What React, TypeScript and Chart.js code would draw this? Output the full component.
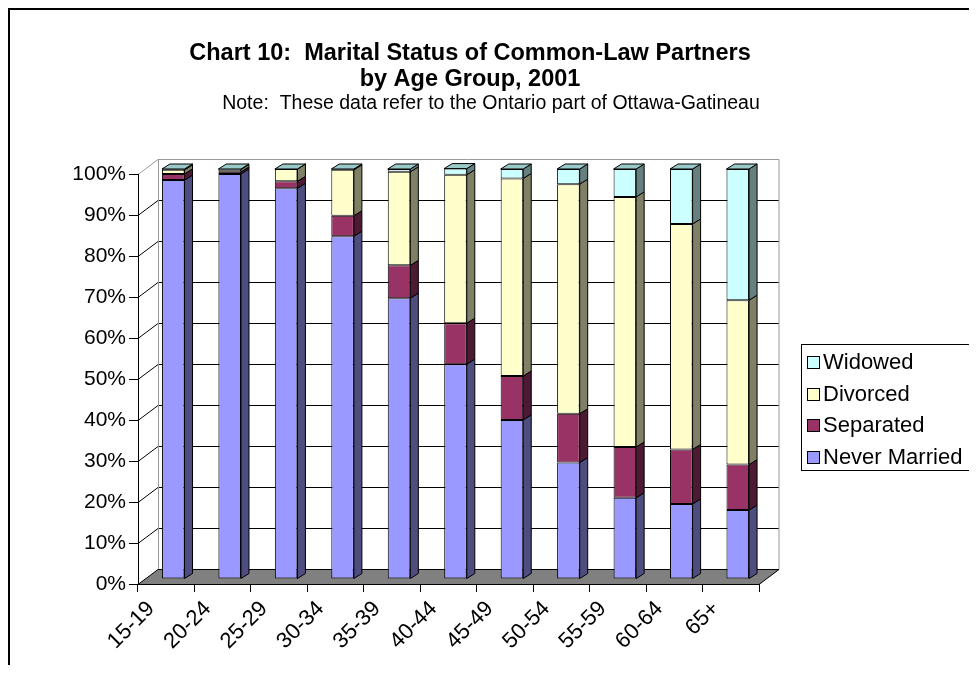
import React, { useEffect, useRef } from 'react';
import { Chart, registerables } from 'chart.js';

Chart.register(...registerables);

// ---------- data ----------
const categories = ['15-19', '20-24', '25-29', '30-34', '35-39', '40-44', '45-49', '50-54', '55-59', '60-64', '65+'];
const neverMarried = [97.3, 98.8, 95.3, 83.6, 68.5, 52.4, 38.8, 28.4, 19.8, 18.3, 16.8];
const separated = [1.5, 0.5, 1.7, 5.0, 8.0, 10.0, 10.7, 11.9, 12.4, 13.3, 11.1];
const divorced = [1.0, 0.6, 3.0, 11.2, 22.8, 36.2, 48.2, 56.0, 61.0, 55.0, 40.1];
const widowed = [0.2, 0.1, 0.0, 0.2, 0.7, 1.5, 2.3, 3.7, 6.8, 13.4, 32.0];
const seriesNames = ['Never Married', 'Separated', 'Divorced', 'Widowed'];
const yTickStep = 10;
const yMax = 100;
const titleLines = ['Chart 10:  Marital Status of Common-Law Partners', 'by Age Group, 2001'];
const noteText = 'Note:  These data refer to the Ontario part of Ottawa-Gatineau';

// ---------- styles ----------
const FONT = '"Liberation Sans", Arial, Helvetica, sans-serif';
const frontColors = ['#9999FF', '#993366', '#FFFFCC', '#CCFFFF'];
const sideColors = ['#4D4D80', '#4D1A33', '#808066', '#668080'];
const topColor = '#99C9C9';
const WALL_DX = 20;
const WALL_DY = -15;
const BAR_SHIFT_X = 7;
const BAR_SHIFT_Y = -5;
const BAR_DX = 8;
const BAR_DY = -5;
const W = 967;
const H = 655;
const AREA_LEFT = 128;
const AREA_RIGHT = 749;
const AREA_TOP = 164;
const AREA_BOTTOM = 574;

const threeD = {
  id: 'threeD',
  beforeDraw(chart: any) {
    const { ctx, chartArea, scales } = chart;
    const y = scales.y;
    const l = chartArea.left;
    const r = chartArea.right;
    ctx.save();
    ctx.lineWidth = 1;
    const y0 = y.getPixelForValue(0);
    const yTop = y.getPixelForValue(yMax);
    // back-wall gridlines and left-wall gridlines
    for (let v = yTickStep; v < yMax; v += yTickStep) {
      const py = Math.round(y.getPixelForValue(v)) + 0.5;
      ctx.strokeStyle = '#000';
      ctx.beginPath();
      ctx.moveTo(l + WALL_DX, py + WALL_DY);
      ctx.lineTo(r + WALL_DX, py + WALL_DY);
      ctx.stroke();
      ctx.beginPath();
      ctx.moveTo(l, py);
      ctx.lineTo(l + WALL_DX, py + WALL_DY);
      ctx.stroke();
    }
    // wall borders
    ctx.strokeStyle = '#9a9a9a';
    const ty = Math.round(yTop) + 0.5;
    const by = Math.round(y0) + 0.5;
    ctx.beginPath();
    ctx.moveTo(l, ty);
    ctx.lineTo(l + WALL_DX, ty + WALL_DY);
    ctx.lineTo(r + WALL_DX, ty + WALL_DY);
    ctx.lineTo(r + WALL_DX, by + WALL_DY);
    ctx.moveTo(l + WALL_DX + 0.5, ty + WALL_DY);
    ctx.lineTo(l + WALL_DX + 0.5, by + WALL_DY);
    ctx.stroke();
    // floor
    ctx.fillStyle = '#808080';
    ctx.strokeStyle = '#000';
    ctx.beginPath();
    ctx.moveTo(l, by);
    ctx.lineTo(r, by);
    ctx.lineTo(r + WALL_DX, by + WALL_DY);
    ctx.lineTo(l + WALL_DX, by + WALL_DY);
    ctx.closePath();
    ctx.fill();
    ctx.stroke();
    ctx.restore();
  },
  beforeDatasetsDraw(chart: any) {
    chart.ctx.save();
    chart.ctx.translate(BAR_SHIFT_X, BAR_SHIFT_Y);
  },
  afterDatasetsDraw(chart: any) {
    const { ctx } = chart;
    const n = chart.data.datasets.length;
    ctx.lineWidth = 1;
    ctx.strokeStyle = '#000';
    for (let d = 0; d < n; d++) {
      const meta = chart.getDatasetMeta(d);
      meta.data.forEach((el: any) => {
        const p = el.getProps(['x', 'y', 'base', 'width'], true);
        const right = p.x + p.width / 2;
        const left = p.x - p.width / 2;
        const top = Math.min(p.y, p.base);
        const bot = Math.max(p.y, p.base);
        ctx.fillStyle = sideColors[d];
        ctx.beginPath();
        ctx.moveTo(right, bot);
        ctx.lineTo(right, top);
        ctx.lineTo(right + BAR_DX, top + BAR_DY);
        ctx.lineTo(right + BAR_DX, bot + BAR_DY);
        ctx.closePath();
        ctx.fill();
        ctx.stroke();
        if (d === n - 1) {
          ctx.fillStyle = topColor;
          ctx.beginPath();
          ctx.moveTo(left, top);
          ctx.lineTo(right, top);
          ctx.lineTo(right + BAR_DX, top + BAR_DY);
          ctx.lineTo(left + BAR_DX, top + BAR_DY);
          ctx.closePath();
          ctx.fill();
          ctx.stroke();
        }
      });
    }
    ctx.restore();
  },
  afterDraw(chart: any) {
    const { ctx } = chart;
    ctx.save();
    ctx.fillStyle = '#000';
    ctx.textAlign = 'center';
    ctx.textBaseline = 'middle';
    ctx.font = `bold 23.5px ${FONT}`;
    ctx.fillText(titleLines[0], 460, 44);
    ctx.fillText(titleLines[1], 460, 70);
    ctx.font = `19.5px ${FONT}`;
    ctx.fillText(noteText, 481, 94);
    // legend
    ctx.strokeStyle = '#000';
    ctx.lineWidth = 1;
    ctx.strokeRect(791.5, 334.5, 300, 126);
    const rowsY = [352, 383.5, 415, 446.5];
    const ds = chart.data.datasets;
    ctx.textAlign = 'left';
    ctx.font = `22px ${FONT}`;
    for (let i = 0; i < ds.length; i++) {
      const d = ds[ds.length - 1 - i];
      const cy = rowsY[i];
      ctx.fillStyle = d.backgroundColor;
      ctx.fillRect(797.5, Math.round(cy - 6) + 0.5, 12, 12);
      ctx.strokeRect(797.5, Math.round(cy - 6) + 0.5, 12, 12);
      ctx.fillStyle = '#000';
      ctx.fillText(d.label, 813, cy + 1);
    }
    ctx.restore();
  },
};

export default function App() {
  const ref = useRef<HTMLCanvasElement | null>(null);
  useEffect(() => {
    document.documentElement.style.overflow = 'hidden';
    document.body.style.overflow = 'hidden';
    const canvas = ref.current;
    if (!canvas) return;
    const series = [neverMarried, separated, divorced, widowed];
    const chart = new Chart(canvas, {
      type: 'bar',
      data: {
        labels: categories,
        datasets: series.map((vals, i) => ({
          label: seriesNames[i],
          data: vals,
          backgroundColor: frontColors[i],
          borderColor: '#000',
          borderWidth: 1,
          borderSkipped: false,
          barPercentage: 0.4,
          categoryPercentage: 1,
          clip: false as any,
        })),
      },
      options: {
        responsive: false,
        maintainAspectRatio: false,
        animation: false,
        events: [],
        layout: { padding: { top: AREA_TOP, right: W - AREA_RIGHT, left: 0, bottom: 0 } },
        plugins: {
          legend: { display: false },
          title: { display: false },
          tooltip: { enabled: false },
        },
        scales: {
          x: {
            stacked: true,
            afterFit: (s: any) => { s.height = H - AREA_BOTTOM; },
            grid: { drawOnChartArea: false, drawTicks: true, tickLength: 8, offset: true, color: '#000' },
            border: { display: true, color: '#000' },
            ticks: {
              color: '#000',
              font: { family: FONT, size: 22 },
              maxRotation: 45,
              minRotation: 45,
              padding: 4,
              labelOffset: -15,
              autoSkip: false,
            },
          },
          y: {
            stacked: true,
            min: 0,
            max: yMax,
            afterFit: (s: any) => { s.width = AREA_LEFT; },
            grid: { drawOnChartArea: false, drawTicks: true, tickLength: 9, color: '#000' },
            border: { display: true, color: '#000' },
            ticks: {
              stepSize: yTickStep,
              color: '#000',
              padding: 3,
              font: { family: FONT, size: 21 },
              callback: (v: any) => `${v}%`,
            },
          },
        },
      },
      plugins: [threeD],
    });
    return () => chart.destroy();
  }, []);
  return (
    <div style={{ width: W, height: H, borderLeft: '2px solid #000', borderTop: '2px solid #000', overflow: 'hidden' }}>
      <canvas ref={ref} width={W} height={H} style={{ display: 'block', width: W, height: H }} />
    </div>
  );
}
